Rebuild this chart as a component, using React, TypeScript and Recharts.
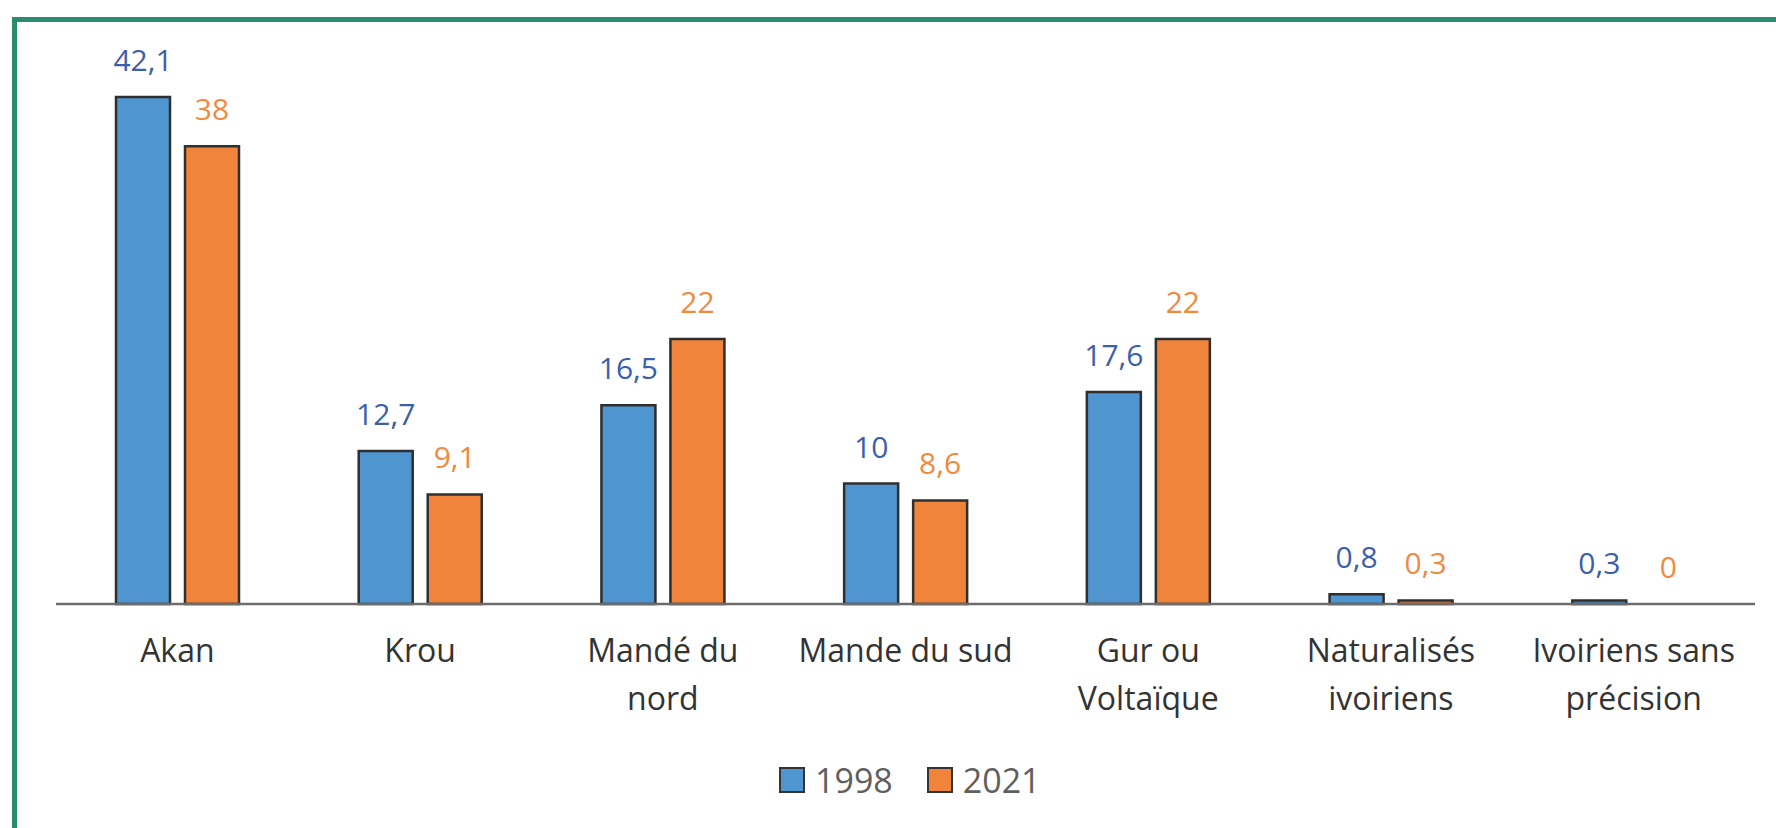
import React from "react";
import { BarChart, Bar, XAxis, YAxis, Legend, LabelList, Cell } from "recharts";

const categories = [
  "Akan",
  "Krou",
  "Mandé du nord",
  "Mande du sud",
  "Gur ou Voltaïque",
  "Naturalisés ivoiriens",
  "Ivoiriens sans précision",
];

// how each category label breaks onto lines under the axis
const tickLabels = [
  ["Akan"],
  ["Krou"],
  ["Mandé du", "nord"],
  ["Mande du sud"],
  ["Gur ou", "Voltaïque"],
  ["Naturalisés", "ivoiriens"],
  ["Ivoiriens sans", "précision"],
];

const values1998 = [42.1, 12.7, 16.5, 10, 17.6, 0.8, 0.3];
const values2021 = [38, 9.1, 22, 8.6, 22, 0.3, 0];

const seriesNames = ["1998", "2021"];

const BLUE = "#4f96d1";
const ORANGE = "#f0843a";
const BLUE_TEXT = "#3c5fa9";
const ORANGE_TEXT = "#f08a3e";
const EDGE = "#2f2f2f";
const FONT = "'Open Sans', sans-serif";

const chartData = categories.map((name, i) => ({
  name,
  y1998: values1998[i],
  y2021: values2021[i],
}));

const fmt = (v: any) => String(v).replace(".", ",");

// recharts drops zero-height bars (and their labels), so give them a hairline
const keepZero = (value: any) => (Number(value) === 0 ? 0.01 : 0);

// value label drawn above each bar
const makeValueLabel = (color: string) => (props: any) => {
  const { x, y, width, value } = props;
  if (value === undefined || value === null) return null;
  return (
    <text
      x={Number(x) + Number(width) / 2}
      y={Number(y) - 26}
      textAnchor="middle"
      fill={color}
      fontSize={30}
      fontFamily={FONT}
    >
      {fmt(value)}
    </text>
  );
};

const CategoryTick = (props: any) => {
  const { x, y, index } = props;
  const lines = tickLabels[index] || [props.payload.value];
  return (
    <text
      x={x}
      y={y + 58}
      textAnchor="middle"
      fill="#333333"
      fontSize={32}
      fontFamily={FONT}
    >
      {lines.map((l: string, k: number) => (
        <tspan key={k} x={x} dy={k === 0 ? 0 : 48}>
          {l}
        </tspan>
      ))}
    </text>
  );
};

const LegendContent = () => {
  const colors = [BLUE, ORANGE];
  return (
    <div
      style={{
        display: "flex",
        alignItems: "center",
        fontFamily: FONT,
        fontSize: 34,
        lineHeight: 1,
        color: "#5f5f5f",
      }}
    >
      {seriesNames.map((s, i) => (
        <div
          key={s}
          style={{ display: "flex", alignItems: "center", marginRight: 34 }}
        >
          <span
            style={{
              display: "inline-block",
              width: 22,
              height: 22,
              background: colors[i],
              border: "2px solid #333",
              marginRight: 10,
            }}
          />
          <span>{s}</span>
        </div>
      ))}
    </div>
  );
};

export default function App() {
  return (
    <div
      style={{
        position: "absolute",
        left: 0,
        top: 0,
        width: 1776,
        height: 828,
        overflow: "hidden",
        background: "#ffffff",
        fontFamily: FONT,
      }}
    >
      <div
        style={{
          position: "absolute",
          left: 12,
          top: 17,
          width: 1900,
          height: 1000,
          border: "5px solid #2b8c6d",
        }}
      />
      <div style={{ position: "absolute", left: 0, top: 0 }}>
        <BarChart
          width={1776}
          height={828}
          data={chartData}
          margin={{ top: 62, right: 21, bottom: 124, left: 56 }}
          barSize={54}
          barGap={15}
        >
          <XAxis
            dataKey="name"
            axisLine={{ stroke: "#6c6c6c", strokeWidth: 2.5 }}
            tickLine={false}
            tickSize={0}
            tickMargin={0}
            height={100}
            interval={0}
            tick={<CategoryTick />}
          />
          <YAxis hide domain={[0, 45]} />
          <Legend
            layout="horizontal"
            verticalAlign="middle"
            align="center"
            content={<LegendContent />}
            wrapperStyle={{ left: 779, top: 763, width: 400, height: 34 }}
          />
          <Bar
            dataKey="y1998"
            name="1998"
            fill={BLUE}
            stroke={EDGE}
            strokeWidth={2.5}
            minPointSize={keepZero}
            isAnimationActive={false}
          >
            {values1998.map((v, i) => (
              <Cell
                key={i}
                fill={v === 0 ? "none" : BLUE}
                stroke={v === 0 ? "none" : EDGE}
              />
            ))}
            <LabelList dataKey="y1998" content={makeValueLabel(BLUE_TEXT)} />
          </Bar>
          <Bar
            dataKey="y2021"
            name="2021"
            fill={ORANGE}
            stroke={EDGE}
            strokeWidth={2.5}
            minPointSize={keepZero}
            isAnimationActive={false}
          >
            {values2021.map((v, i) => (
              <Cell
                key={i}
                fill={v === 0 ? "none" : ORANGE}
                stroke={v === 0 ? "none" : EDGE}
              />
            ))}
            <LabelList dataKey="y2021" content={makeValueLabel(ORANGE_TEXT)} />
          </Bar>
        </BarChart>
      </div>
    </div>
  );
}
